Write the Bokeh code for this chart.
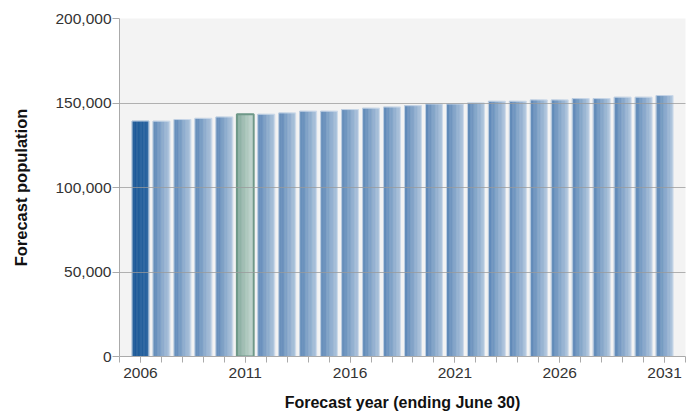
from bokeh.plotting import figure
from bokeh.models import FixedTicker, NumeralTickFormatter, ColumnDataSource
from bokeh.embed import file_html
from bokeh.resources import INLINE

# ---- data ----
years = list(range(2006, 2032))
population = [139300, 139200, 140200, 140900, 141700, 143300, 143300, 144100,
              145100, 145100, 146100, 146900, 147600, 148400, 149400, 149400,
              150000, 151000, 151000, 151800, 151800, 152600, 152600, 153400,
              153400, 154400]
base_year = 2006
highlight_year = 2011
x_tick_labels = [2006, 2011, 2016, 2021, 2026, 2031]
y_ticks = [0, 50000, 100000, 150000, 200000]

FONT = "Liberation Sans"
BAR_W = 0.8
N_STRIPS = 12


def hex_to_rgb(h):
    h = h.lstrip("#")
    return tuple(int(h[i:i + 2], 16) for i in (0, 2, 4))


def mix(c1, c2, t):
    a, b = hex_to_rgb(c1), hex_to_rgb(c2)
    return "#%02x%02x%02x" % tuple(round(a[i] + (b[i] - a[i]) * t) for i in range(3))


p = figure(width=695, height=414, output_backend="svg", toolbar_location=None,
           x_range=(2005, 2032), y_range=(0, 200000),
           min_border_left=119, min_border_right=10, min_border_top=18,
           min_border_bottom=58)
p.background_fill_color = "#f3f3f3"
p.border_fill_color = "white"
p.outline_line_color = None

# gradient strips built from the data
xs, tops, widths, colors = [], [], [], []
for yr, val in zip(years, population):
    if yr == base_year:
        c_left, c_right = "#1d5a97", "#2a64a0"
    elif yr == highlight_year:
        c_left, c_right = "#86ab9d", "#c4d8d1"
    else:
        c_left, c_right = "#5a86b6", "#abc2db"
    for k in range(N_STRIPS):
        t = (k + 0.5) / N_STRIPS
        xs.append(yr - BAR_W / 2 + t * BAR_W)
        tops.append(val)
        widths.append(BAR_W / N_STRIPS)
        colors.append(mix(c_left, c_right, k / (N_STRIPS - 1)))

strip_src = ColumnDataSource(dict(x=xs, top=tops, w=widths, c=colors))
p.vbar(x="x", top="top", width="w", bottom=0, source=strip_src,
       fill_color="c", line_color="c", line_width=0.6)

# light outline of normal bars
outline_years = [y for y in years if y != highlight_year]
outline_vals = [v for y, v in zip(years, population) if y != highlight_year]
p.vbar(x=outline_years, top=outline_vals, width=BAR_W, bottom=0,
       fill_color=None, line_color="#d3dfec", line_width=1, line_alpha=0.8)

# highlighted bar border
hi_val = population[years.index(highlight_year)]
p.vbar(x=[highlight_year], top=[hi_val], width=BAR_W, bottom=0,
       fill_color=None, line_color="#6e9888", line_width=2)

# axes
p.yaxis.ticker = FixedTicker(ticks=y_ticks)
p.yaxis.formatter = NumeralTickFormatter(format="0,0")
p.xaxis.ticker = FixedTicker(ticks=x_tick_labels, minor_ticks=list(range(2005, 2033)))

for ax in (p.xaxis[0], p.yaxis[0]):
    ax.axis_line_color = "#aaaaaa"
    ax.major_tick_line_color = "#aaaaaa"
    ax.minor_tick_line_color = "#aaaaaa"
    ax.major_tick_in = 0
    ax.minor_tick_in = 0
    ax.major_label_text_font = FONT
    ax.major_label_text_font_size = "15.5px"
    ax.major_label_text_color = "#333333"
    ax.axis_label_text_font = FONT
    ax.axis_label_text_font_style = "bold"
    ax.axis_label_text_color = "#111111"

p.xaxis.axis_label_text_font_size = "16px"
p.yaxis.axis_label_text_font_size = "16.5px"
p.xaxis.major_tick_out = 6
p.xaxis.minor_tick_out = 6
p.yaxis.major_tick_out = 7
p.yaxis.minor_tick_line_color = None
p.xaxis.major_label_standoff = 5
p.yaxis.major_label_standoff = 1
p.xaxis.axis_label = "Forecast year (ending June 30)"
p.yaxis.axis_label = "Forecast population"
p.xaxis.axis_label_standoff = 13
p.yaxis.axis_label_standoff = 22

p.xgrid.grid_line_color = None
p.ygrid.grid_line_color = "#999999"
p.ygrid.grid_line_alpha = 0.75
p.ygrid.grid_line_width = 1
p.ygrid.level = "overlay"

open("out.html", "w").write(file_html(p, INLINE))
